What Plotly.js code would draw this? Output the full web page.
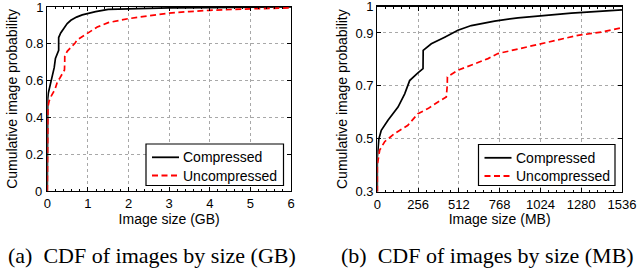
<!DOCTYPE html>
<html><head><meta charset="utf-8">
<script src="https://cdn.plot.ly/plotly-3.0.1.min.js"></script>
<style>html,body{margin:0;padding:0;background:#fff}#chart{width:637px;height:270px}</style>
</head><body><div id="chart"></div>
<script>
// Left panel (GB)
const gbCompX = [0, 0, 0.01, 0.025, 0.065, 0.13, 0.17, 0.2, 0.25, 0.28, 0.28, 0.33, 0.41, 0.49, 0.58, 0.72, 0.86, 1.07, 1.19, 1.5, 2, 2.5, 3, 4, 5, 6];
const gbCompY = [0, 0.43, 0.5, 0.532, 0.57, 0.62, 0.67, 0.72, 0.749, 0.765, 0.834, 0.859, 0.884, 0.91, 0.928, 0.945, 0.957, 0.97, 0.975, 0.987, 0.99, 0.993, 0.995, 0.997, 0.999, 1];
const gbUncX = [0, 0, 0.015, 0.045, 0.106, 0.188, 0.25, 0.31, 0.37, 0.423, 0.429, 0.43, 0.49, 0.6, 0.68, 0.74, 0.86, 1.03, 1.23, 1.37, 1.5, 2, 2.5, 3, 3.5, 4, 5, 6];
const gbUncY = [0, 0.4, 0.457, 0.489, 0.52, 0.551, 0.595, 0.614, 0.639, 0.658, 0.7, 0.734, 0.759, 0.784, 0.803, 0.822, 0.84, 0.862, 0.891, 0.903, 0.915, 0.937, 0.953, 0.967, 0.975, 0.982, 0.99, 0.995];
// Right panel (MB)
const mbCompX = [0, 0, 10, 25, 67, 130, 172, 203, 255, 287, 288, 339, 423, 506, 590, 736, 883, 1092, 1218, 1536];
const mbCompY = [0.3, 0.43, 0.5, 0.532, 0.57, 0.62, 0.67, 0.72, 0.749, 0.765, 0.834, 0.859, 0.884, 0.91, 0.928, 0.945, 0.957, 0.97, 0.975, 0.987];
const mbUncX = [0, 0, 15, 46, 109, 192, 255, 318, 381, 433, 439, 440, 506, 611, 695, 757, 883, 1050, 1259, 1406, 1536];
const mbUncY = [0.3, 0.4, 0.457, 0.489, 0.52, 0.551, 0.595, 0.614, 0.639, 0.658, 0.7, 0.734, 0.759, 0.784, 0.803, 0.822, 0.84, 0.862, 0.891, 0.903, 0.92];
const seriesNames = ["Compressed", "Uncompressed"];
const gbTicks = [0, 1, 2, 3, 4, 5, 6];
const gbYTicks = [0, 0.2, 0.4, 0.6, 0.8, 1];
const gbYLabels = ["0", "0.2", "0.4", "0.6", "0.8", "1"];
const mbTicks = [0, 256, 512, 768, 1024, 1280, 1536];
const mbYTicks = [0.3, 0.5, 0.7, 0.9, 1];
const mbYLabels = ["0.3", "0.5", "0.7", "0.9", "1"];
const captions = ["(a)  CDF of images by size (GB)", "(b)  CDF of images by size (MB)"];

const W = 637, H = 270;
const px = v => v / W, py = v => 1 - v / H;
const blackLine = {color: "#000", width: 1.7};
const redLine = {color: "#ff0000", width: 1.7, dash: "6px,3.5px"};
const traces = [
  {x: gbCompX, y: gbCompY, name: seriesNames[0], mode: "lines", line: blackLine, xaxis: "x", yaxis: "y"},
  {x: gbUncX, y: gbUncY, name: seriesNames[1], mode: "lines", line: redLine, xaxis: "x", yaxis: "y"},
  {x: mbCompX, y: mbCompY, name: seriesNames[0], mode: "lines", line: blackLine, xaxis: "x2", yaxis: "y2"},
  {x: mbUncX, y: mbUncY, name: seriesNames[1], mode: "lines", line: redLine, xaxis: "x2", yaxis: "y2"}
];
const tickFont = {family: "Liberation Sans, Arial, sans-serif", size: 13, color: "#000"};
const titleFont = {family: "Liberation Sans, Arial, sans-serif", size: 14, color: "#000"};
function ax(extra) {
  return Object.assign({
    showline: true, linecolor: "#000", linewidth: 1.2, mirror: "ticks",
    ticks: "inside", ticklen: 4, tickcolor: "#000", tickwidth: 1, zeroline: false,
    showgrid: true, gridcolor: "#a8a8a8", griddash: "dot", gridwidth: 1,
    tickfont: tickFont, fixedrange: true, ticklabeloverflow: "allow"
  }, extra);
}
// Left y-axis: the "0" label is placed by an annotation on the y scale, so the axis shows an empty label there
const gbYAxisText = gbYLabels.map((t, i) => i === 0 ? "" : t);

// Manual legends (box, samples, labels) in pixel positions
const legends = [{l: 146, r: 283.5, t: 144, b: 185.5}, {l: 478.5, r: 615, t: 144.5, b: 185.5}];
const shapes = [], annotations = [];
legends.forEach(L => {
  shapes.push({type: "rect", xref: "paper", yref: "paper", x0: px(L.l), x1: px(L.r), y0: py(L.b), y1: py(L.t),
    line: {color: "#000", width: 1.2}, fillcolor: "#fff", layer: "above"});
  [blackLine, redLine].forEach((ln, i) => {
    const yy = L.t + 13.3 + i * 18.2;
    shapes.push({type: "line", xref: "paper", yref: "paper", x0: px(L.l + 6), x1: px(L.l + 33), y0: py(yy), y1: py(yy),
      line: {color: ln.color, width: 1.8, dash: ln.dash || "solid"}, layer: "above"});
    annotations.push({text: seriesNames[i], xref: "paper", yref: "paper", x: px(L.l + 35), y: py(yy),
      xanchor: "left", yanchor: "middle", showarrow: false, font: titleFont});
  });
});
annotations.push({text: gbYLabels[0], xref: "x", yref: "y", x: gbTicks[0], y: gbYTicks[0], xshift: -3,
  xanchor: "right", yanchor: "middle", showarrow: false, font: tickFont});
const capFont = {family: "Liberation Serif, Times New Roman, serif", size: 22, color: "#000"};
annotations.push({text: captions[0], xref: "paper", yref: "paper", x: px(151.7), y: py(255), xanchor: "center", yanchor: "middle", showarrow: false, font: capFont});
annotations.push({text: captions[1], xref: "paper", yref: "paper", x: px(487), y: py(255), xanchor: "center", yanchor: "middle", showarrow: false, font: capFont});

const layout = {
  width: W, height: H, margin: {l: 0, r: 0, t: 0, b: 0},
  paper_bgcolor: "#fff", plot_bgcolor: "#fff", font: tickFont, showlegend: false,
  xaxis: ax({domain: [px(47.3), px(291)], range: [0, 6], tickvals: gbTicks, anchor: "y",
    minor: {dtick: 0.2, ticks: "inside", ticklen: 2, tickcolor: "#000", showgrid: false},
    title: {text: "Image size (GB)", font: titleFont, standoff: 1}}),
  yaxis: ax({domain: [py(191), py(7)], range: [0, 1], tickvals: gbYTicks, ticktext: gbYAxisText, anchor: "x",
    title: {text: "Cumulative image probability", font: titleFont, standoff: 4}}),
  xaxis2: ax({domain: [px(377.3), px(622)], range: [0, 1536], tickvals: mbTicks, anchor: "y2",
    minor: {dtick: 51.2, ticks: "inside", ticklen: 2, tickcolor: "#000", showgrid: false},
    title: {text: "Image size (MB)", font: titleFont, standoff: 1}}),
  yaxis2: ax({domain: [py(191.7), py(6.5)], range: [0.3, 1], tickvals: mbYTicks, ticktext: mbYLabels, anchor: "x2",
    title: {text: "Cumulative image probability", font: titleFont, standoff: 4}}),
  shapes: shapes,
  annotations: annotations
};
Plotly.newPlot("chart", traces, layout, {displayModeBar: false, staticPlot: true});
</script>
</body></html>
